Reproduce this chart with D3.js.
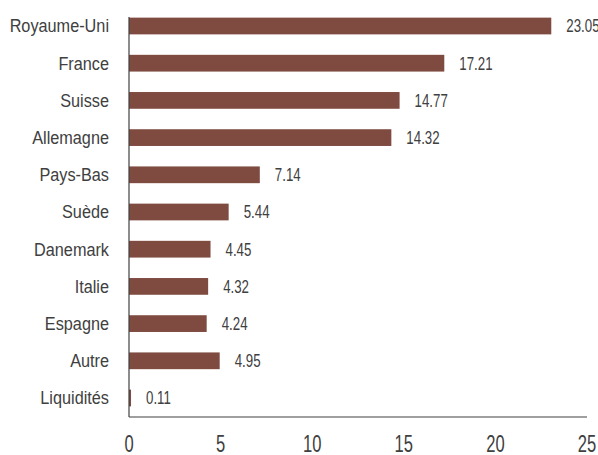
<!DOCTYPE html>
<html><head><meta charset="utf-8">
<script src="https://cdn.jsdelivr.net/npm/d3@7"></script>
<style>
body{margin:0;background:#fff;}
text{font-family:"Liberation Sans",Arial,sans-serif;}
</style></head>
<body><svg id="c" width="598" height="455"></svg>
<script>
const categories = ["Royaume-Uni","France","Suisse","Allemagne","Pays-Bas","Suède","Danemark","Italie","Espagne","Autre","Liquidités"];
const values = [23.05,17.21,14.77,14.32,7.14,5.44,4.45,4.32,4.24,4.95,0.11];
const xTicks = [0,5,10,15,20,25];

const svg = d3.select("#c");
const x = d3.scaleLinear().domain([0,25]).range([129,587]);
const y = d3.scaleBand().domain(categories).range([7.4,416.6]).paddingInner(0.55).paddingOuter(0.275);
const color = "#7f4a40";
const txt = "#404040";

svg.selectAll("rect.bar").data(categories).join("rect")
  .attr("x", x(0)).attr("y", d=>y(d))
  .attr("width", (d,i)=>x(values[i])-x(0)).attr("height", y.bandwidth())
  .attr("fill", color);

svg.selectAll("text.val").data(categories).join("text")
  .attr("transform",(d,i)=>`translate(${x(values[i])+15},${y(d)+y.bandwidth()/2}) scale(0.76,1)`)
  .attr("dy","0.36em").attr("font-size",17.5).attr("fill",txt)
  .text((d,i)=>values[i].toFixed(2));

svg.selectAll("text.cat").data(categories).join("text")
  .attr("transform",d=>`translate(109,${y(d)+y.bandwidth()/2}) scale(0.93,1)`)
  .attr("dy","0.36em").attr("text-anchor","end").attr("font-size",17.5).attr("fill",txt)
  .text(d=>d);

svg.append("line").attr("x1",x(0)).attr("x2",x(0)).attr("y1",17).attr("y2",417).attr("stroke",txt).attr("stroke-width",1.2);
svg.append("line").attr("x1",x(0)).attr("x2",x(25)).attr("y1",417).attr("y2",417).attr("stroke",txt).attr("stroke-width",1.2);

svg.selectAll("text.tick").data(xTicks).join("text")
  .attr("transform",d=>`translate(${x(d)},452) scale(0.72,1)`)
  .attr("text-anchor","middle")
  .attr("font-size",23).attr("fill",txt).text(d=>d);
</script></body></html>
